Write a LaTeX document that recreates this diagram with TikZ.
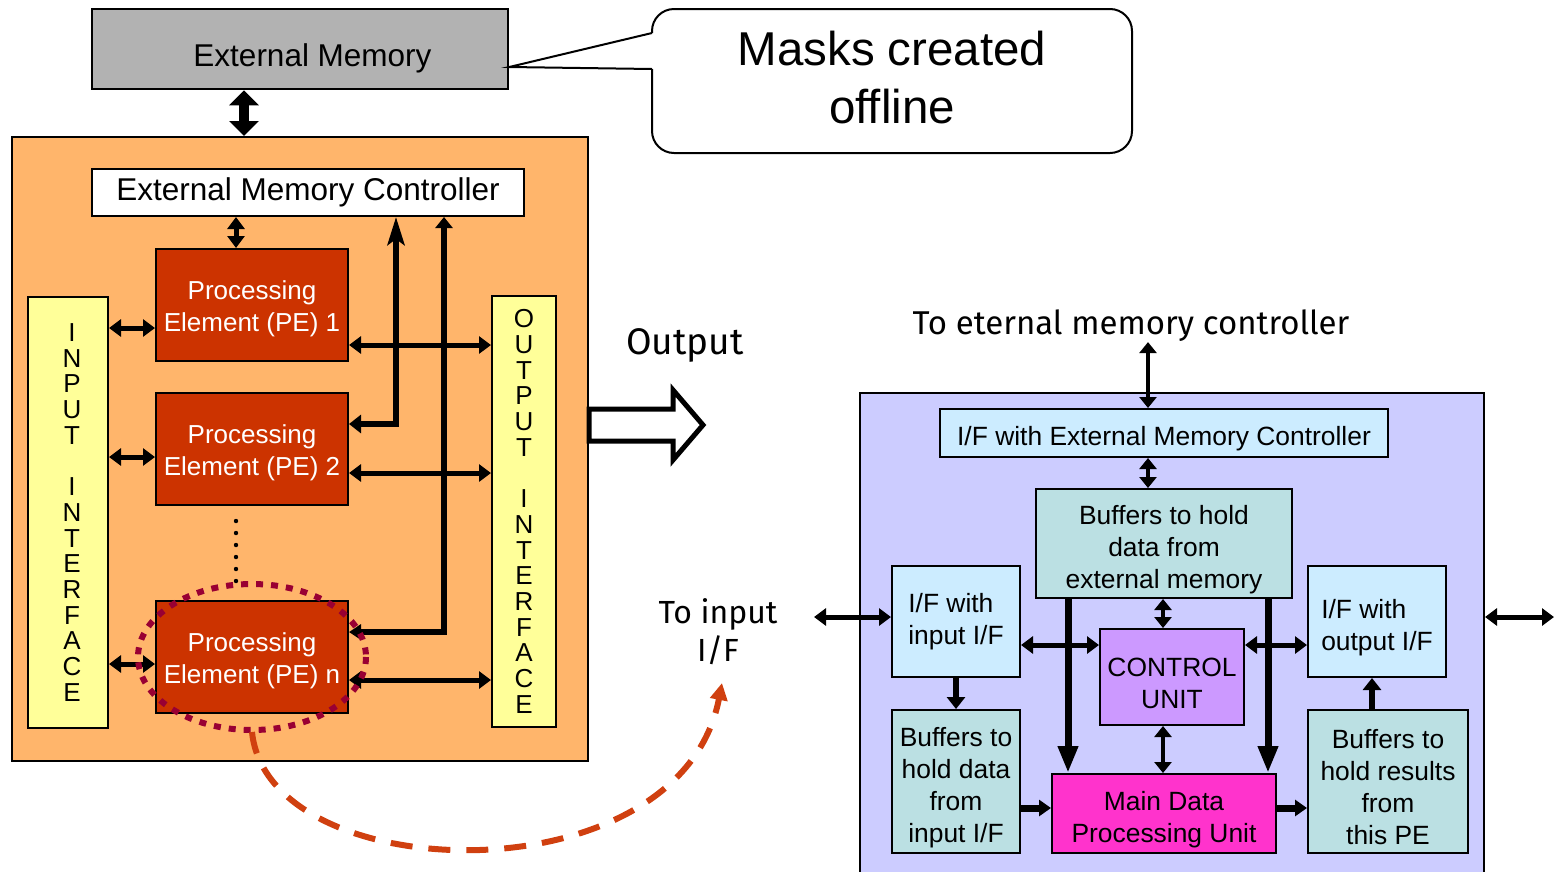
\documentclass[tikz,border=0pt]{standalone}
\usepackage{fontspec}
\setmainfont{Liberation Sans}
\newfontfamily\handfont{Fira Sans}
\usepackage{xcolor}
\usepackage{tikz}
\usetikzlibrary{arrows.meta, calc}
\tikzset{
    block/.style={rectangle, draw=black, line width=2, inner sep=0pt, align=center, font=\fontsize{26.4}{32}\selectfont},
    pebox/.style={block, fill=pered, text=white, minimum width=192, minimum height=112, font=\fontsize{26}{32}\selectfont},
    iface/.style={block, fill=ifyellow, minimum height=431, font=\fontsize{26}{25.7}\selectfont},
    hand/.style={font=\handfont\fontsize{32}{38}\selectfont, align=center, inner sep=0pt},
    bigdbl/.style={line width=10, {Triangle[length=15pt,width=29pt]}-{Triangle[length=15pt,width=29pt]}},
    link/.style={line width=5, {Triangle[length=12pt,width=17pt]}-{Triangle[length=12pt,width=17pt]}},
    duplex/.style={line width=4, {Triangle[length=11pt,width=17pt]}-{Triangle[length=11pt,width=17pt]}},
    bus/.style={line width=6, {Stealth[length=28pt,width=17pt,inset=6pt]}-{Triangle[length=12pt,width=18pt]}},
    busshort/.style={line width=6, {Triangle[length=11pt,width=17pt]}-{Triangle[length=12pt,width=15pt]}},
    feed/.style={line width=6, -{Triangle[length=12pt,width=18pt]}},
    widefeed/.style={line width=7, -{Triangle[length=12pt,width=16pt]}},
    drop/.style={line width=7, -{Triangle[length=27pt,width=19pt]}},
    ringmark/.style={draw=ringred, line width=6, dash pattern=on 7pt off 8pt},
    loopback/.style={draw=loopred, line width=6, dash pattern=on 22pt off 16pt, -{Triangle[length=17pt,width=17pt]}},
    hollow/.style={draw=black, line width=5, fill=white}
}
\definecolor{memgray}{RGB}{178,178,178}
\definecolor{chiporange}{RGB}{255,181,107}
\definecolor{ifyellow}{RGB}{255,255,153}
\definecolor{pered}{RGB}{204,51,0}
\definecolor{ringred}{RGB}{153,0,51}
\definecolor{loopred}{RGB}{208,64,16}
\definecolor{unitlav}{RGB}{204,204,255}
\definecolor{ifcyan}{RGB}{204,236,255}
\definecolor{bufteal}{RGB}{187,224,227}
\definecolor{ctrlviolet}{RGB}{204,153,255}
\definecolor{mainpink}{RGB}{255,51,204}
% taller first line, pushes the text a bit down in its box
\newcommand{\lowpe}{\rule{0pt}{27pt}}
\newcommand{\lowtxt}{\rule{0pt}{31pt}}

\begin{document}
\begin{tikzpicture}[x=1pt, y=-1pt]
    \useasboundingbox (0,0) rectangle (1555,871);

    % Nodes: memory and array of PEs
    \node (extmem) [block, fill=memgray, line width=2.5, minimum width=416, minimum height=80, font=\fontsize{31.5}{38}\selectfont, text height=35pt, text depth=0pt] at (300,49) {\hspace*{25pt}External Memory};
    \node (masks) [font=\fontsize{47.5}{58}\selectfont, align=center] at (892,78) {Masks created\\offline};
    \node (chip) [block, fill=chiporange, minimum width=576, minimum height=624] at (300,449) {};
    \node (emc) [block, fill=white, minimum width=432, minimum height=47, font=\fontsize{31.5}{38}\selectfont] at (308,192.5) {External Memory Controller};
    \node (pe1) [pebox] at (252,305) {\lowpe Processing\\Element (PE) 1};
    \node (pe2) [pebox] at (252,449) {\lowpe Processing\\Element (PE) 2};
    \node (pen) [pebox] at (252,657) {\lowpe Processing\\Element (PE) n};
    \node (input) [iface, minimum width=80] at (68,512.5) {\hspace*{8pt}I\\\hspace*{8pt}N\\\hspace*{8pt}P\\\hspace*{8pt}U\\\hspace*{8pt}T\\ \mbox{}\\\hspace*{8pt}I\\\hspace*{8pt}N\\\hspace*{8pt}T\\\hspace*{8pt}E\\\hspace*{8pt}R\\\hspace*{8pt}F\\\hspace*{8pt}A\\\hspace*{8pt}C\\\hspace*{8pt}E};
    \node (output) [iface, minimum width=64] at (524,511.5) {O\\U\\T\\P\\U\\T\\ \mbox{}\\I\\N\\T\\E\\R\\F\\A\\C\\E};

    % Callout
    \draw[line width=2] (652,33) -- ([yshift=-18pt]extmem.east) -- (652,69);
    \draw[line width=2, rounded corners=22] (652,69) -- (652,153) -- (1132,153) -- (1132,9) -- (652,9) -- (652,33);

    % Arrows in the array
    \draw[bigdbl] ([xshift=-56pt]extmem.south) -- ([xshift=-56pt]extmem.south |- chip.north);
    \draw[link] ([xshift=-16pt]pe1.north) -- ([xshift=-16pt]pe1.north |- emc.south);
    \draw[link] ([yshift=-23pt]pe1.west) -- ([yshift=-23pt]pe1.west -| input.east);
    \draw[link] ([yshift=-8pt]pe2.west) -- ([yshift=-8pt]pe2.west -| input.east);
    \draw[link] ([yshift=-7pt]pen.west) -- ([yshift=-7pt]pen.west -| input.east);
    \draw[bus] ([xshift=88pt]emc.south) |- ([yshift=25pt]pe2.east);
    \draw[busshort] ([xshift=136pt]emc.south) |- ([yshift=25pt]pen.east);
    \draw[link] ([yshift=-40pt]pe1.east) -- ([yshift=-40pt]pe1.east -| output.west);
    \draw[link] ([yshift=-24pt]pe2.east) -- ([yshift=-24pt]pe2.east -| output.west);
    \draw[link] ([yshift=-23pt]pen.east) -- ([yshift=-23pt]pen.east -| output.west);
    \foreach \i in {0,...,5}
        \fill (236,521+12*\i) circle (2.2);

    % Highlight and loop back
    \draw[ringmark] (pen) ellipse [x radius=114, y radius=73];
    \node (toinput) [hand] at (718,632) {To input\\I/F};
    \coordinate (toin) at (722,683);
    \draw[loopback] ([yshift=-75pt]pen.center) .. controls (268,890) and (680,900) .. (toin);

    % Output block arrow
    \node (outlabel) [hand, font=\handfont\fontsize{37}{42}\selectfont] at (685,345) {Output};
    \draw[hollow] ([yshift=40pt]chip.east) -- ++(84,0) -- ++(0,-19) -- ++(30,35) -- ++(-30,35) -- ++(0,-19) -- ++(-84,0) -- cycle;

    % Nodes: inside one PE
    \node (unit) [block, fill=unitlav, minimum width=624, minimum height=492] at (1172,639) {};
    \node (toext) [hand, font=\handfont\fontsize{33}{38}\selectfont] at (1131,326) {To eternal memory controller};
    \node (ifmem) [block, fill=ifcyan, minimum width=448, minimum height=48] at (1164,433) {\lowtxt I/F with External Memory Controller};
    \node (bufmem) [block, fill=bufteal, minimum width=256, minimum height=109] at (1164,543.5) {\lowtxt Buffers to hold\\data from\\external memory};
    \node (ifin) [block, fill=ifcyan, minimum width=128, minimum height=111, align=left] at (956,621.5) {I/F with\\input I/F};
    \node (ifout) [block, fill=ifcyan, minimum width=138, minimum height=111, align=left] at (1377,621.5) {\lowtxt I/F with\\output I/F};
    \node (ctrl) [block, fill=ctrlviolet, minimum width=144, minimum height=96] at (1172,677) {\lowtxt CONTROL\\UNIT};
    \node (bufin) [block, fill=bufteal, minimum width=128, minimum height=143] at (956,781.5) {\lowtxt Buffers to\\hold data\\from\\input I/F};
    \node (mdpu) [block, fill=mainpink, minimum width=224, minimum height=79] at (1164,813.5) {\lowtxt Main Data\\Processing Unit};
    \node (bufout) [block, fill=bufteal, minimum width=160, minimum height=143] at (1388,781.5) {\lowtxt Buffers to\\hold results\\from\\this PE};
    \coordinate (inlink) at (814,617);
    \coordinate (outlink) at (1554,617);

    % Arrows inside the PE
    \draw[duplex] ([xshift=-16pt]ifmem.north) -- ([xshift=-16pt]ifmem.north |- toext.south);
    \draw[duplex] ([xshift=-16pt]ifmem.south) -- ([xshift=-16pt]ifmem.south |- bufmem.north);
    \draw[duplex] ([xshift=-9pt]ctrl.north) -- ([xshift=-9pt]ctrl.north |- bufmem.south);
    \draw[duplex] ([xshift=-9pt]ctrl.south) -- ([xshift=-9pt]ctrl.south |- mdpu.north);
    \draw[link] ([yshift=4.5pt]ifin.west) -- (inlink);
    \draw[link] ([yshift=4.5pt]ifin.west -| unit.east) -- (outlink);
    \draw[link] ([yshift=32pt]ctrl.west) -- ([yshift=32pt]ctrl.west -| ifin.east);
    \draw[link] ([yshift=32pt]ctrl.east) -- ([yshift=32pt]ctrl.east -| ifout.west);
    \draw[feed] (ifin) -- (bufin);
    \draw[feed] ([xshift=-16pt]bufout.north) -- ([xshift=-16pt]bufout.north |- ifout.south);
    \draw[widefeed] ([yshift=5.5pt]mdpu.west -| bufin.east) -- ([yshift=5.5pt]mdpu.west);
    \draw[widefeed] ([yshift=5.5pt]mdpu.east) -- ([yshift=5.5pt]mdpu.east -| bufout.west);
    \draw[drop] ([xshift=-96pt]mdpu.north |- bufmem.south) -- ([xshift=-96pt]mdpu.north);
    \draw[drop] ([xshift=104pt]mdpu.north |- bufmem.south) -- ([xshift=104pt]mdpu.north);
\end{tikzpicture}
\end{document}
